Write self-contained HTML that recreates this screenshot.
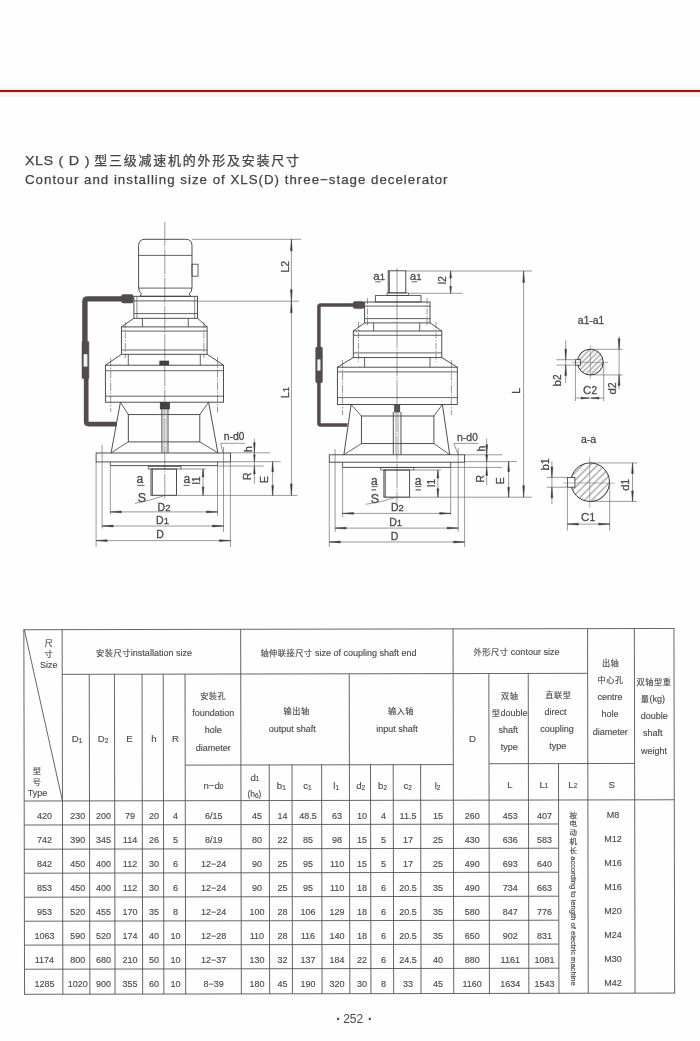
<!DOCTYPE html>
<html lang="zh">
<head>
<meta charset="utf-8">
<title>XLS(D) three-stage decelerator</title>
<style>
html,body{margin:0;padding:0;}
body{width:700px;height:1041px;position:relative;overflow:hidden;background:#fefefe;
 font-family:"Liberation Sans","Noto Sans CJK SC",sans-serif;color:#4a4a4a;}
.page{position:absolute;left:0;top:0;width:700px;height:1041px;will-change:transform;}
.band{position:absolute;left:0;top:80px;width:700px;height:17px;background:linear-gradient(#fefefe,#f3f8f8 60%,#f1f5f4);}
.rule{position:absolute;left:0;top:89.6px;width:700px;height:2.6px;background:#b30a0a;box-shadow:0 0 1px #d66;}
.t1,.t2{position:absolute;left:25px;white-space:nowrap;color:#444;-webkit-text-stroke:0.25px #444;}
.t1{top:152.7px;left:25.2px;font-size:13px;letter-spacing:1.75px;line-height:16px;}
.t1 b{font-weight:normal;display:inline-block;transform:scaleX(1.06);transform-origin:0 50%;font-size:13.6px;letter-spacing:0.4px;word-spacing:0.6px;width:69.1px;white-space:pre;}
.t2{top:171.8px;left:25px;font-size:13.3px;letter-spacing:1.0px;line-height:16px;}
svg{position:absolute;left:0;top:0;}
svg text{font-family:"Liberation Sans","Noto Sans CJK SC",sans-serif;}
.tbl{position:absolute;left:0;top:0;width:700px;height:1041px;}
.c{position:absolute;white-space:nowrap;font-size:9px;line-height:12px;text-align:center;color:#4c4c4c;-webkit-text-stroke:0.15px #4c4c4c;transform:translate(-50%,-50%);}
.c sub{font-size:6.5px;vertical-align:baseline;position:relative;top:0.3px;}
.c.h{font-size:9.6px;}
.c u{text-decoration:none;font-size:8.2px;letter-spacing:0.5px;}
.pg{position:absolute;left:303.2px;width:100px;top:1011.4px;text-align:center;font-size:12px;line-height:14px;color:#4a4a4a;white-space:pre;}
.pg i{font-style:normal;font-weight:bold;font-size:15px;line-height:14px;display:inline-block;width:5px;text-align:center;vertical-align:-0.5px;position:relative;left:1.2px;top:0.3px;}
</style>
</head>
<body>
<div class="page">
<div class="band"></div>
<div class="rule"></div>
<div class="t1"><b>XLS ( D )</b>型三级减速机的外形及安装尺寸</div>
<div class="t2">Contour and installing size of XLS(D) three−stage decelerator</div>
<svg width="700" height="1041" viewBox="0 0 700 1041">
<g id="drawing">
<line x1="164.8" y1="222.0" x2="164.8" y2="500.0" stroke="#5a5a5a" stroke-width="0.6" stroke-dasharray="24 1.2 1.6 1.2"/>
<path d="M145 239.3 H185.6 Q192.0 239.3 192.0 245.7 V287.5 Q191.9 292 189.2 293.8 L190.6 296.3 H140 L141.4 293.8 Q138.7 292 138.6 287.5 V245.7 Q138.6 239.3 145 239.3 Z" fill="none" stroke="#3c3c3c" stroke-width="0.9" />
<line x1="138.6" y1="255.4" x2="192.1" y2="255.4" stroke="#3c3c3c" stroke-width="0.8" />
<line x1="138.6" y1="288.1" x2="192.0" y2="288.1" stroke="#3c3c3c" stroke-width="0.8" />
<rect x="192.0" y="264.2" width="6.0" height="12.0" rx="0" fill="none" stroke="#3c3c3c" stroke-width="0.8"/>
<rect x="133.9" y="296.3" width="63.6" height="22.0" rx="0" fill="none" stroke="#3c3c3c" stroke-width="0.9"/>
<line x1="133.9" y1="300.9" x2="197.5" y2="300.9" stroke="#3c3c3c" stroke-width="0.8" />
<line x1="133.9" y1="313.6" x2="197.5" y2="313.6" stroke="#3c3c3c" stroke-width="0.8" />
<line x1="136.9" y1="296.3" x2="136.9" y2="318.3" stroke="#3c3c3c" stroke-width="0.6" />
<line x1="194.7" y1="296.3" x2="194.7" y2="318.3" stroke="#3c3c3c" stroke-width="0.6" />
<path d="M133.9 318.3 L121.4 326.9" fill="none" stroke="#3c3c3c" stroke-width="0.9" stroke-linejoin="round"/>
<path d="M197.5 318.3 L207.1 326.9" fill="none" stroke="#3c3c3c" stroke-width="0.9" stroke-linejoin="round"/>
<line x1="142.4" y1="318.3" x2="142.4" y2="326.9" stroke="#3c3c3c" stroke-width="0.8" />
<line x1="188.3" y1="318.3" x2="188.3" y2="326.9" stroke="#3c3c3c" stroke-width="0.8" />
<rect x="121.4" y="326.9" width="85.7" height="27.4" rx="0" fill="none" stroke="#3c3c3c" stroke-width="0.9"/>
<line x1="121.4" y1="331.1" x2="207.1" y2="331.1" stroke="#3c3c3c" stroke-width="0.8" />
<line x1="121.4" y1="350.0" x2="207.1" y2="350.0" stroke="#3c3c3c" stroke-width="0.8" />
<line x1="125.3" y1="322.0" x2="125.3" y2="358.0" stroke="#555" stroke-width="0.6" stroke-dasharray="6 1.5 1.5 1.5"/>
<line x1="203.9" y1="322.0" x2="203.9" y2="358.0" stroke="#555" stroke-width="0.6" stroke-dasharray="6 1.5 1.5 1.5"/>
<path d="M121.4 354.3 L105.4 365.2" fill="none" stroke="#3c3c3c" stroke-width="0.9" stroke-linejoin="round"/>
<path d="M207.1 354.3 L223.5 365.2" fill="none" stroke="#3c3c3c" stroke-width="0.9" stroke-linejoin="round"/>
<line x1="128.3" y1="354.3" x2="128.3" y2="365.2" stroke="#3c3c3c" stroke-width="0.8" />
<line x1="200.3" y1="354.3" x2="200.3" y2="365.2" stroke="#3c3c3c" stroke-width="0.8" />
<rect x="159.8" y="361.0" width="9.0" height="4.0" rx="0" fill="#444" stroke="#333" stroke-width="0.6"/>
<rect x="105.4" y="365.2" width="118.1" height="37.0" rx="0" fill="none" stroke="#3c3c3c" stroke-width="0.9"/>
<line x1="105.4" y1="370.7" x2="223.5" y2="370.7" stroke="#3c3c3c" stroke-width="0.8" />
<line x1="105.4" y1="396.2" x2="223.5" y2="396.2" stroke="#3c3c3c" stroke-width="0.8" />
<line x1="110.7" y1="358.0" x2="110.7" y2="412.0" stroke="#555" stroke-width="0.6" stroke-dasharray="8 1.5 1.5 1.5"/>
<line x1="217.5" y1="357.0" x2="217.5" y2="412.5" stroke="#555" stroke-width="0.6" stroke-dasharray="8 1.5 1.5 1.5"/>
<path d="M120.4 402.2 L111.1 452.8" fill="none" stroke="#3c3c3c" stroke-width="0.9" stroke-linejoin="round"/>
<path d="M208.6 402.2 L217.9 452.8" fill="none" stroke="#3c3c3c" stroke-width="0.9" stroke-linejoin="round"/>
<rect x="128.3" y="414.6" width="71.5" height="27.3" rx="0" fill="none" stroke="#3c3c3c" stroke-width="0.9"/>
<line x1="120.4" y1="402.2" x2="128.3" y2="414.6" stroke="#3c3c3c" stroke-width="0.8" />
<line x1="208.6" y1="402.2" x2="199.8" y2="414.6" stroke="#3c3c3c" stroke-width="0.8" />
<line x1="111.1" y1="452.8" x2="128.3" y2="441.9" stroke="#3c3c3c" stroke-width="0.8" />
<line x1="217.9" y1="452.8" x2="199.8" y2="441.9" stroke="#3c3c3c" stroke-width="0.8" />
<rect x="160.2" y="402.4" width="9.4" height="6.6" rx="0" fill="#444" stroke="#333" stroke-width="0.6"/>
<line x1="161.9" y1="409.0" x2="161.9" y2="452.8" stroke="#3c3c3c" stroke-width="0.9" />
<line x1="168.0" y1="409.0" x2="168.0" y2="452.8" stroke="#3c3c3c" stroke-width="0.9" />
<line x1="163.3" y1="409.0" x2="163.3" y2="452.8" stroke="#999" stroke-width="0.5" />
<line x1="166.6" y1="409.0" x2="166.6" y2="452.8" stroke="#999" stroke-width="0.5" />
<rect x="96.1" y="453.0" width="134.3" height="8.9" rx="0" fill="none" stroke="#3c3c3c" stroke-width="0.9"/>
<line x1="110.3" y1="465.6" x2="217.5" y2="465.6" stroke="#3c3c3c" stroke-width="0.9" />
<line x1="110.3" y1="461.9" x2="110.3" y2="465.6" stroke="#3c3c3c" stroke-width="0.8" />
<line x1="217.5" y1="461.9" x2="217.5" y2="465.6" stroke="#3c3c3c" stroke-width="0.8" />
<rect x="148.2" y="466.6" width="32.8" height="2.4" rx="0" fill="none" stroke="#3c3c3c" stroke-width="0.7"/>
<rect x="151.0" y="469.0" width="25.5" height="26.3" rx="0" fill="none" stroke="#3c3c3c" stroke-width="0.9"/>
<line x1="152.3" y1="469.0" x2="152.3" y2="495.3" stroke="#3c3c3c" stroke-width="0.9" />
<path d="M133 298.9 H87.6 Q84.9 298.9 84.9 301.6 V342" fill="none" stroke="#524a4e" stroke-width="5.4" stroke-linejoin="round"/>
<path d="M86.2 377 V421.6 Q86.2 424.1 88.8 424.1 H116.8" fill="none" stroke="#524a4e" stroke-width="4.7" stroke-linejoin="round"/>
<rect x="121.4" y="294.6" width="11.9" height="8.4" rx="1.8" fill="#524a4e" stroke="#524a4e" stroke-width="0.5"/>
<rect x="82.0" y="341.2" width="6.9" height="37.4" rx="1.2" fill="#524a4e" stroke="#524a4e" stroke-width="0.5"/>
<rect x="83.5" y="354.0" width="4.0" height="12.8" rx="0.8" fill="#f2f2f2" stroke="#777" stroke-width="0.4"/>
<line x1="192.0" y1="239.3" x2="301.0" y2="239.3" stroke="#555" stroke-width="0.6" />
<line x1="197.5" y1="301.2" x2="299.0" y2="301.2" stroke="#555" stroke-width="0.6" />
<line x1="291.4" y1="239.3" x2="291.4" y2="495.4" stroke="#555" stroke-width="0.6" />
<path d="M291.4 239.3 L290.5 250.8 L292.2 250.8 Z" fill="#3a3a3a" stroke="#3a3a3a" stroke-width="0.5"/>
<path d="M291.4 301.2 L290.5 289.7 L292.2 289.7 Z" fill="#3a3a3a" stroke="#3a3a3a" stroke-width="0.5"/>
<path d="M291.4 301.2 L290.5 312.7 L292.2 312.7 Z" fill="#3a3a3a" stroke="#3a3a3a" stroke-width="0.5"/>
<path d="M291.4 495.4 L290.5 483.9 L292.2 483.9 Z" fill="#3a3a3a" stroke="#3a3a3a" stroke-width="0.5"/>
<text x="289.3" y="266.7" font-size="10.5" text-anchor="middle" fill="#4a4a4a" stroke="#4a4a4a" stroke-width="0.3" transform="rotate(-90 289.3 266.7)" >L2</text>
<text x="289.3" y="392.5" font-size="10.5" text-anchor="middle" fill="#4a4a4a" stroke="#4a4a4a" stroke-width="0.3" transform="rotate(-90 289.3 392.5)" >L<tspan font-size="9">1</tspan></text>
<line x1="152.0" y1="495.4" x2="297.4" y2="495.4" stroke="#555" stroke-width="0.6" />
<line x1="96.1" y1="461.9" x2="96.1" y2="547.0" stroke="#555" stroke-width="0.6" />
<line x1="230.4" y1="461.9" x2="230.4" y2="547.0" stroke="#555" stroke-width="0.6" />
<line x1="102.1" y1="445.0" x2="102.1" y2="528.5" stroke="#555" stroke-width="0.6" />
<line x1="223.5" y1="447.0" x2="223.5" y2="531.8" stroke="#555" stroke-width="0.6" />
<line x1="110.3" y1="465.6" x2="110.3" y2="514.5" stroke="#555" stroke-width="0.6" />
<line x1="217.5" y1="465.6" x2="217.5" y2="515.7" stroke="#555" stroke-width="0.6" />
<line x1="110.3" y1="511.9" x2="217.5" y2="511.9" stroke="#555" stroke-width="0.6" />
<path d="M110.3 511.9 L121.3 511.0 L121.3 512.8 Z" fill="#3a3a3a" stroke="#3a3a3a" stroke-width="0.5"/>
<path d="M217.5 511.9 L206.5 511.0 L206.5 512.8 Z" fill="#3a3a3a" stroke="#3a3a3a" stroke-width="0.5"/>
<line x1="102.1" y1="526.0" x2="223.5" y2="526.0" stroke="#555" stroke-width="0.6" />
<path d="M102.1 526.0 L113.1 525.1 L113.1 526.9 Z" fill="#3a3a3a" stroke="#3a3a3a" stroke-width="0.5"/>
<path d="M223.5 526.0 L212.5 525.1 L212.5 526.9 Z" fill="#3a3a3a" stroke="#3a3a3a" stroke-width="0.5"/>
<line x1="96.1" y1="540.6" x2="230.4" y2="540.6" stroke="#555" stroke-width="0.6" />
<path d="M96.1 540.6 L107.1 539.8 L107.1 541.5 Z" fill="#3a3a3a" stroke="#3a3a3a" stroke-width="0.5"/>
<path d="M230.4 540.6 L219.4 539.8 L219.4 541.5 Z" fill="#3a3a3a" stroke="#3a3a3a" stroke-width="0.5"/>
<text x="164.0" y="510.6" font-size="10.5" text-anchor="middle" fill="#4a4a4a" stroke="#4a4a4a" stroke-width="0.3" >D<tspan font-size="9.5">2</tspan></text>
<text x="162.5" y="524.3" font-size="10.5" text-anchor="middle" fill="#4a4a4a" stroke="#4a4a4a" stroke-width="0.3" >D<tspan font-size="9.5">1</tspan></text>
<text x="160.0" y="538.2" font-size="10.5" text-anchor="middle" fill="#4a4a4a" stroke="#4a4a4a" stroke-width="0.3" >D</text>
<text x="139.8" y="483.0" font-size="12" text-anchor="middle" fill="#4a4a4a" stroke="#4a4a4a" stroke-width="0.3" >a</text>
<line x1="137.2" y1="485.4" x2="144.5" y2="485.4" stroke="#3c3c3c" stroke-width="0.8" />
<text x="142.0" y="502.2" font-size="12.5" text-anchor="middle" fill="#4a4a4a" stroke="#4a4a4a" stroke-width="0.3" >S</text>
<line x1="135.0" y1="503.4" x2="150.0" y2="500.0" stroke="#555" stroke-width="0.6" />
<line x1="150.0" y1="500.0" x2="163.2" y2="496.0" stroke="#555" stroke-width="0.6" />
<text x="186.8" y="483.0" font-size="12" text-anchor="middle" fill="#4a4a4a" stroke="#4a4a4a" stroke-width="0.3" >a</text>
<line x1="183.5" y1="485.4" x2="189.5" y2="485.4" stroke="#3c3c3c" stroke-width="0.8" />
<text x="200.3" y="480.5" font-size="10.5" text-anchor="middle" fill="#4a4a4a" stroke="#4a4a4a" stroke-width="0.3" transform="rotate(-90 200.3 480.5)" >l<tspan font-size="10">1</tspan></text>
<line x1="203.1" y1="469.0" x2="203.1" y2="495.4" stroke="#555" stroke-width="0.6" />
<path d="M203.1 469.0 L202.2 477.0 L203.9 477.0 Z" fill="#3a3a3a" stroke="#3a3a3a" stroke-width="0.5"/>
<path d="M203.1 495.4 L202.2 486.9 L203.9 486.9 Z" fill="#3a3a3a" stroke="#3a3a3a" stroke-width="0.5"/>
<line x1="181.0" y1="469.0" x2="206.0" y2="469.0" stroke="#555" stroke-width="0.6" />
<line x1="230.4" y1="452.8" x2="270.0" y2="452.8" stroke="#555" stroke-width="0.6" />
<line x1="230.4" y1="461.7" x2="280.7" y2="461.7" stroke="#555" stroke-width="0.6" />
<line x1="217.5" y1="466.0" x2="263.6" y2="466.0" stroke="#555" stroke-width="0.6" />
<line x1="254.4" y1="438.6" x2="254.4" y2="483.6" stroke="#555" stroke-width="0.6" />
<path d="M254.4 452.8 L253.6 442.8 L255.2 442.8 Z" fill="#3a3a3a" stroke="#3a3a3a" stroke-width="0.5"/>
<path d="M254.4 461.7 L253.6 454.7 L255.2 454.7 Z" fill="#3a3a3a" stroke="#3a3a3a" stroke-width="0.5"/>
<path d="M254.4 466.0 L253.6 474.0 L255.2 474.0 Z" fill="#3a3a3a" stroke="#3a3a3a" stroke-width="0.5"/>
<text x="251.8" y="449.0" font-size="10.5" text-anchor="middle" fill="#4a4a4a" stroke="#4a4a4a" stroke-width="0.3" transform="rotate(-90 251.8 449.0)" >h</text>
<text x="251.5" y="476.2" font-size="10.5" text-anchor="middle" fill="#4a4a4a" stroke="#4a4a4a" stroke-width="0.3" transform="rotate(-90 251.5 476.2)" >R</text>
<text x="268.0" y="479.4" font-size="10.5" text-anchor="middle" fill="#4a4a4a" stroke="#4a4a4a" stroke-width="0.3" transform="rotate(-90 268.0 479.4)" >E</text>
<line x1="272.6" y1="461.7" x2="272.6" y2="495.4" stroke="#555" stroke-width="0.6" />
<path d="M272.6 461.7 L271.8 471.7 L273.5 471.7 Z" fill="#3a3a3a" stroke="#3a3a3a" stroke-width="0.5"/>
<path d="M272.6 495.4 L271.8 485.4 L273.5 485.4 Z" fill="#3a3a3a" stroke="#3a3a3a" stroke-width="0.5"/>
<text x="234.0" y="439.6" font-size="10.5" text-anchor="middle" fill="#4a4a4a" stroke="#4a4a4a" stroke-width="0.3" >n-d<tspan font-size="10">0</tspan></text>
<line x1="220.7" y1="443.3" x2="245.4" y2="443.3" stroke="#555" stroke-width="0.6" />
<line x1="220.7" y1="443.3" x2="222.9" y2="452.8" stroke="#555" stroke-width="0.6" />
<line x1="397.0" y1="268.0" x2="397.0" y2="503.0" stroke="#5a5a5a" stroke-width="0.6" stroke-dasharray="24 1.2 1.6 1.2"/>
<rect x="388.2" y="270.8" width="17.6" height="22.1" rx="0" fill="none" stroke="#3c3c3c" stroke-width="0.9"/>
<line x1="389.3" y1="270.8" x2="389.3" y2="292.9" stroke="#3c3c3c" stroke-width="0.9" />
<rect x="387.1" y="292.9" width="21.5" height="2.7" rx="0" fill="none" stroke="#3c3c3c" stroke-width="0.7"/>
<rect x="375.4" y="295.6" width="45.6" height="6.4" rx="0" fill="none" stroke="#3c3c3c" stroke-width="0.8"/>
<rect x="364.6" y="302.0" width="65.4" height="20.9" rx="0" fill="none" stroke="#3c3c3c" stroke-width="0.9"/>
<line x1="364.6" y1="306.1" x2="430.0" y2="306.1" stroke="#3c3c3c" stroke-width="0.8" />
<line x1="364.6" y1="318.6" x2="430.0" y2="318.6" stroke="#3c3c3c" stroke-width="0.8" />
<line x1="367.5" y1="298.0" x2="367.5" y2="326.0" stroke="#555" stroke-width="0.6" stroke-dasharray="6 1.5 1.5 1.5"/>
<line x1="427.0" y1="298.0" x2="427.0" y2="326.0" stroke="#555" stroke-width="0.6" stroke-dasharray="6 1.5 1.5 1.5"/>
<line x1="364.6" y1="322.9" x2="353.3" y2="331.0" stroke="#3c3c3c" stroke-width="0.9" />
<line x1="430.0" y1="322.9" x2="441.8" y2="331.0" stroke="#3c3c3c" stroke-width="0.9" />
<line x1="373.6" y1="322.9" x2="373.6" y2="331.0" stroke="#3c3c3c" stroke-width="0.8" />
<line x1="419.7" y1="322.9" x2="419.7" y2="331.0" stroke="#3c3c3c" stroke-width="0.8" />
<rect x="353.3" y="331.0" width="88.5" height="26.6" rx="0" fill="none" stroke="#3c3c3c" stroke-width="0.9"/>
<line x1="353.3" y1="335.3" x2="441.8" y2="335.3" stroke="#3c3c3c" stroke-width="0.8" />
<line x1="353.3" y1="352.9" x2="441.8" y2="352.9" stroke="#3c3c3c" stroke-width="0.8" />
<line x1="358.5" y1="322.0" x2="358.5" y2="362.0" stroke="#555" stroke-width="0.6" stroke-dasharray="6 1.5 1.5 1.5"/>
<line x1="436.0" y1="322.0" x2="436.0" y2="362.0" stroke="#555" stroke-width="0.6" stroke-dasharray="6 1.5 1.5 1.5"/>
<line x1="353.3" y1="357.6" x2="337.4" y2="367.2" stroke="#3c3c3c" stroke-width="0.9" />
<line x1="441.8" y1="357.6" x2="457.3" y2="367.2" stroke="#3c3c3c" stroke-width="0.9" />
<line x1="364.6" y1="357.6" x2="364.6" y2="367.2" stroke="#3c3c3c" stroke-width="0.8" />
<line x1="430.0" y1="357.6" x2="430.0" y2="367.2" stroke="#3c3c3c" stroke-width="0.8" />
<rect x="337.4" y="367.2" width="119.9" height="37.3" rx="0" fill="none" stroke="#3c3c3c" stroke-width="0.9"/>
<line x1="337.4" y1="371.9" x2="457.3" y2="371.9" stroke="#3c3c3c" stroke-width="0.8" />
<line x1="337.4" y1="397.6" x2="457.3" y2="397.6" stroke="#3c3c3c" stroke-width="0.8" />
<line x1="342.6" y1="360.0" x2="342.6" y2="415.0" stroke="#555" stroke-width="0.6" stroke-dasharray="8 1.5 1.5 1.5"/>
<line x1="451.4" y1="360.0" x2="451.4" y2="415.0" stroke="#555" stroke-width="0.6" stroke-dasharray="8 1.5 1.5 1.5"/>
<line x1="351.1" y1="404.5" x2="343.9" y2="454.6" stroke="#3c3c3c" stroke-width="0.9" />
<line x1="442.4" y1="404.5" x2="449.7" y2="454.6" stroke="#3c3c3c" stroke-width="0.9" />
<rect x="361.4" y="416.0" width="72.5" height="27.6" rx="0" fill="none" stroke="#3c3c3c" stroke-width="0.9"/>
<line x1="351.1" y1="404.5" x2="361.4" y2="416.0" stroke="#3c3c3c" stroke-width="0.8" />
<line x1="442.4" y1="404.5" x2="433.9" y2="416.0" stroke="#3c3c3c" stroke-width="0.8" />
<line x1="343.9" y1="454.6" x2="361.4" y2="443.6" stroke="#3c3c3c" stroke-width="0.8" />
<line x1="449.7" y1="454.6" x2="433.9" y2="443.6" stroke="#3c3c3c" stroke-width="0.8" />
<rect x="394.6" y="405.3" width="5.2" height="6.7" rx="0" fill="#555" stroke="#333" stroke-width="0.6"/>
<line x1="393.3" y1="412.0" x2="393.3" y2="454.6" stroke="#3c3c3c" stroke-width="0.9" />
<line x1="401.0" y1="412.0" x2="401.0" y2="454.6" stroke="#3c3c3c" stroke-width="0.9" />
<line x1="395.6" y1="412.0" x2="395.6" y2="454.6" stroke="#999" stroke-width="0.5" />
<line x1="398.6" y1="412.0" x2="398.6" y2="454.6" stroke="#999" stroke-width="0.5" />
<rect x="329.3" y="454.8" width="135.3" height="7.4" rx="0" fill="none" stroke="#3c3c3c" stroke-width="0.9"/>
<line x1="342.6" y1="467.4" x2="450.7" y2="467.4" stroke="#3c3c3c" stroke-width="0.9" />
<line x1="342.6" y1="462.2" x2="342.6" y2="467.4" stroke="#3c3c3c" stroke-width="0.8" />
<line x1="450.7" y1="462.2" x2="450.7" y2="467.4" stroke="#3c3c3c" stroke-width="0.8" />
<rect x="380.7" y="467.6" width="33.2" height="2.4" rx="0" fill="none" stroke="#3c3c3c" stroke-width="0.7"/>
<rect x="383.9" y="470.0" width="25.7" height="27.2" rx="0" fill="none" stroke="#3c3c3c" stroke-width="0.9"/>
<line x1="385.2" y1="470.0" x2="385.2" y2="497.2" stroke="#3c3c3c" stroke-width="0.9" />
<path d="M364 305.0 H320.8 Q318.9 305.0 318.9 307 V423.2 Q318.9 425.0 320.8 425.0 H347.6" fill="none" stroke="#524a4e" stroke-width="3.5" stroke-linejoin="round"/>
<rect x="353.2" y="301.4" width="11.0" height="7.2" rx="1.8" fill="#524a4e" stroke="#524a4e" stroke-width="0.5"/>
<rect x="315.7" y="347.1" width="6.7" height="35.7" rx="1.4" fill="#524a4e" stroke="#524a4e" stroke-width="0.5"/>
<rect x="317.2" y="359.2" width="3.4" height="11.6" rx="0.8" fill="#f2f2f2" stroke="#777" stroke-width="0.4"/>
<line x1="405.8" y1="271.0" x2="532.0" y2="271.0" stroke="#555" stroke-width="0.6" />
<line x1="408.6" y1="293.3" x2="462.5" y2="293.3" stroke="#555" stroke-width="0.6" />
<line x1="450.6" y1="271.0" x2="450.6" y2="293.3" stroke="#555" stroke-width="0.6" />
<path d="M450.6 271.0 L449.8 278.0 L451.5 278.0 Z" fill="#3a3a3a" stroke="#3a3a3a" stroke-width="0.5"/>
<path d="M450.6 293.3 L449.8 286.3 L451.5 286.3 Z" fill="#3a3a3a" stroke="#3a3a3a" stroke-width="0.5"/>
<text x="446.2" y="280.2" font-size="10.5" text-anchor="middle" fill="#4a4a4a" stroke="#4a4a4a" stroke-width="0.3" transform="rotate(-90 446.2 280.2)" >l<tspan font-size="10">2</tspan></text>
<text x="379.2" y="280.2" font-size="11.5" text-anchor="middle" fill="#4a4a4a" stroke="#4a4a4a" stroke-width="0.3" >a<tspan font-size="9.5">1</tspan></text>
<line x1="375.2" y1="281.8" x2="380.6" y2="281.8" stroke="#3c3c3c" stroke-width="0.8" />
<text x="415.6" y="280.2" font-size="11.5" text-anchor="middle" fill="#4a4a4a" stroke="#4a4a4a" stroke-width="0.3" >a<tspan font-size="9.5">1</tspan></text>
<line x1="411.6" y1="281.8" x2="417.0" y2="281.8" stroke="#3c3c3c" stroke-width="0.8" />
<line x1="523.6" y1="271.0" x2="523.6" y2="497.2" stroke="#555" stroke-width="0.6" />
<path d="M523.6 271.0 L522.8 282.5 L524.5 282.5 Z" fill="#3a3a3a" stroke="#3a3a3a" stroke-width="0.5"/>
<path d="M523.6 497.2 L522.8 485.7 L524.5 485.7 Z" fill="#3a3a3a" stroke="#3a3a3a" stroke-width="0.5"/>
<text x="519.6" y="390.7" font-size="10.5" text-anchor="middle" fill="#4a4a4a" stroke="#4a4a4a" stroke-width="0.3" transform="rotate(-90 519.6 390.7)" >L</text>
<line x1="385.0" y1="497.2" x2="531.7" y2="497.2" stroke="#555" stroke-width="0.6" />
<line x1="329.3" y1="462.2" x2="329.3" y2="547.0" stroke="#555" stroke-width="0.6" />
<line x1="464.6" y1="462.2" x2="464.6" y2="547.0" stroke="#555" stroke-width="0.6" />
<line x1="335.1" y1="449.0" x2="335.1" y2="532.0" stroke="#555" stroke-width="0.6" />
<line x1="458.2" y1="448.0" x2="458.2" y2="531.5" stroke="#555" stroke-width="0.6" />
<line x1="342.6" y1="467.4" x2="342.6" y2="517.0" stroke="#555" stroke-width="0.6" />
<line x1="450.7" y1="467.4" x2="450.7" y2="515.0" stroke="#555" stroke-width="0.6" />
<line x1="342.6" y1="513.4" x2="450.7" y2="513.4" stroke="#555" stroke-width="0.6" />
<path d="M342.6 513.4 L353.6 512.5 L353.6 514.2 Z" fill="#3a3a3a" stroke="#3a3a3a" stroke-width="0.5"/>
<path d="M450.7 513.4 L439.7 512.5 L439.7 514.2 Z" fill="#3a3a3a" stroke="#3a3a3a" stroke-width="0.5"/>
<line x1="335.1" y1="528.1" x2="458.2" y2="528.1" stroke="#555" stroke-width="0.6" />
<path d="M335.1 528.1 L346.1 527.2 L346.1 529.0 Z" fill="#3a3a3a" stroke="#3a3a3a" stroke-width="0.5"/>
<path d="M458.2 528.1 L447.2 527.2 L447.2 529.0 Z" fill="#3a3a3a" stroke="#3a3a3a" stroke-width="0.5"/>
<line x1="329.3" y1="542.0" x2="464.6" y2="542.0" stroke="#555" stroke-width="0.6" />
<path d="M329.3 542.0 L340.3 541.1 L340.3 542.9 Z" fill="#3a3a3a" stroke="#3a3a3a" stroke-width="0.5"/>
<path d="M464.6 542.0 L453.6 541.1 L453.6 542.9 Z" fill="#3a3a3a" stroke="#3a3a3a" stroke-width="0.5"/>
<text x="397.4" y="511.4" font-size="10.5" text-anchor="middle" fill="#4a4a4a" stroke="#4a4a4a" stroke-width="0.3" >D<tspan font-size="9.5">2</tspan></text>
<text x="395.7" y="525.8" font-size="10.5" text-anchor="middle" fill="#4a4a4a" stroke="#4a4a4a" stroke-width="0.3" >D<tspan font-size="9.5">1</tspan></text>
<text x="394.6" y="540.0" font-size="10.5" text-anchor="middle" fill="#4a4a4a" stroke="#4a4a4a" stroke-width="0.3" >D</text>
<text x="374.4" y="484.6" font-size="12" text-anchor="middle" fill="#4a4a4a" stroke="#4a4a4a" stroke-width="0.3" >a</text>
<line x1="371.5" y1="486.6" x2="377.5" y2="486.6" stroke="#3c3c3c" stroke-width="0.8" />
<line x1="371.5" y1="489.9" x2="376.0" y2="489.9" stroke="#3c3c3c" stroke-width="1.0" />
<text x="375.0" y="502.8" font-size="12.5" text-anchor="middle" fill="#4a4a4a" stroke="#4a4a4a" stroke-width="0.3" >S</text>
<line x1="365.7" y1="504.3" x2="381.0" y2="501.6" stroke="#555" stroke-width="0.6" />
<line x1="381.0" y1="501.6" x2="395.7" y2="497.4" stroke="#555" stroke-width="0.6" />
<text x="418.2" y="484.6" font-size="12" text-anchor="middle" fill="#4a4a4a" stroke="#4a4a4a" stroke-width="0.3" >a</text>
<line x1="415.3" y1="486.6" x2="421.3" y2="486.6" stroke="#3c3c3c" stroke-width="0.8" />
<line x1="415.5" y1="489.9" x2="421.0" y2="489.9" stroke="#3c3c3c" stroke-width="1.0" />
<text x="434.6" y="483.0" font-size="10.5" text-anchor="middle" fill="#4a4a4a" stroke="#4a4a4a" stroke-width="0.3" transform="rotate(-90 434.6 483.0)" >l<tspan font-size="10">1</tspan></text>
<line x1="437.9" y1="470.0" x2="437.9" y2="497.2" stroke="#555" stroke-width="0.6" />
<path d="M437.9 470.0 L437.0 478.0 L438.8 478.0 Z" fill="#3a3a3a" stroke="#3a3a3a" stroke-width="0.5"/>
<path d="M437.9 497.2 L437.0 488.7 L438.8 488.7 Z" fill="#3a3a3a" stroke="#3a3a3a" stroke-width="0.5"/>
<line x1="413.9" y1="470.0" x2="441.0" y2="470.0" stroke="#555" stroke-width="0.6" />
<line x1="464.6" y1="454.8" x2="502.0" y2="454.8" stroke="#555" stroke-width="0.6" />
<line x1="464.6" y1="461.6" x2="517.0" y2="461.6" stroke="#555" stroke-width="0.6" />
<line x1="450.7" y1="467.4" x2="502.0" y2="467.4" stroke="#555" stroke-width="0.6" />
<line x1="486.7" y1="438.6" x2="486.7" y2="485.5" stroke="#555" stroke-width="0.6" />
<path d="M486.7 454.8 L485.8 444.8 L487.6 444.8 Z" fill="#3a3a3a" stroke="#3a3a3a" stroke-width="0.5"/>
<path d="M486.7 461.6 L485.8 455.1 L487.6 455.1 Z" fill="#3a3a3a" stroke="#3a3a3a" stroke-width="0.5"/>
<path d="M486.7 467.4 L485.8 475.4 L487.6 475.4 Z" fill="#3a3a3a" stroke="#3a3a3a" stroke-width="0.5"/>
<text x="485.4" y="448.6" font-size="10.5" text-anchor="middle" fill="#4a4a4a" stroke="#4a4a4a" stroke-width="0.3" transform="rotate(-90 485.4 448.6)" >h</text>
<text x="484.2" y="478.6" font-size="10.5" text-anchor="middle" fill="#4a4a4a" stroke="#4a4a4a" stroke-width="0.3" transform="rotate(-90 484.2 478.6)" >R</text>
<text x="504.2" y="480.7" font-size="10.5" text-anchor="middle" fill="#4a4a4a" stroke="#4a4a4a" stroke-width="0.3" transform="rotate(-90 504.2 480.7)" >E</text>
<line x1="508.6" y1="461.6" x2="508.6" y2="497.2" stroke="#555" stroke-width="0.6" />
<path d="M508.6 461.6 L507.8 471.6 L509.5 471.6 Z" fill="#3a3a3a" stroke="#3a3a3a" stroke-width="0.5"/>
<path d="M508.6 497.2 L507.8 487.2 L509.5 487.2 Z" fill="#3a3a3a" stroke="#3a3a3a" stroke-width="0.5"/>
<text x="467.4" y="441.4" font-size="10.5" text-anchor="middle" fill="#4a4a4a" stroke="#4a4a4a" stroke-width="0.3" >n-d<tspan font-size="10">0</tspan></text>
<line x1="453.9" y1="443.4" x2="478.3" y2="443.4" stroke="#555" stroke-width="0.6" />
<line x1="453.9" y1="443.4" x2="458.2" y2="454.8" stroke="#555" stroke-width="0.6" />
<defs><pattern id="hatch" width="3.7" height="3.7" patternUnits="userSpaceOnUse" patternTransform="rotate(-45)"><line x1="0" y1="1.85" x2="3.7" y2="1.85" stroke="#555" stroke-width="0.7"/></pattern><pattern id="hatch2" width="5.2" height="5.2" patternUnits="userSpaceOnUse" patternTransform="rotate(-45)"><line x1="0" y1="2.6" x2="5.2" y2="2.6" stroke="#555" stroke-width="0.7"/></pattern></defs>
<text x="591.0" y="324.2" font-size="10.5" text-anchor="middle" fill="#4a4a4a" stroke="#4a4a4a" stroke-width="0.3" >a<tspan font-size="10">1</tspan>-a<tspan font-size="10">1</tspan></text>
<circle cx="590.3" cy="362.1" r="12.9" fill="url(#hatch)" stroke="#333" stroke-width="1"/>
<rect x="575.4" y="359.7" width="5.2" height="5.4" rx="0" fill="#fefefe" stroke="#333" stroke-width="0.8"/>
<line x1="572.0" y1="362.4" x2="608.0" y2="362.4" stroke="#666" stroke-width="0.5" />
<line x1="590.3" y1="345.0" x2="590.3" y2="379.0" stroke="#666" stroke-width="0.5" />
<line x1="565.7" y1="340.3" x2="565.7" y2="383.1" stroke="#555" stroke-width="0.6" />
<line x1="556.6" y1="359.7" x2="575.4" y2="359.7" stroke="#555" stroke-width="0.6" />
<line x1="556.6" y1="365.1" x2="575.4" y2="365.1" stroke="#555" stroke-width="0.6" />
<path d="M565.7 359.7 L564.9 349.2 L566.6 349.2 Z" fill="#3a3a3a" stroke="#3a3a3a" stroke-width="0.5"/>
<path d="M565.7 365.1 L564.9 375.6 L566.6 375.6 Z" fill="#3a3a3a" stroke="#3a3a3a" stroke-width="0.5"/>
<text x="561.3" y="380.4" font-size="11.5" text-anchor="middle" fill="#4a4a4a" stroke="#4a4a4a" stroke-width="0.3" transform="rotate(-90 561.3 380.4)" >b<tspan font-size="10">2</tspan></text>
<line x1="619.1" y1="336.3" x2="619.1" y2="389.1" stroke="#555" stroke-width="0.6" />
<line x1="590.0" y1="349.3" x2="622.6" y2="349.3" stroke="#555" stroke-width="0.6" />
<line x1="590.0" y1="374.9" x2="622.6" y2="374.9" stroke="#555" stroke-width="0.6" />
<path d="M619.1 349.3 L618.2 338.8 L620.0 338.8 Z" fill="#3a3a3a" stroke="#3a3a3a" stroke-width="0.5"/>
<path d="M619.1 374.9 L618.2 385.4 L620.0 385.4 Z" fill="#3a3a3a" stroke="#3a3a3a" stroke-width="0.5"/>
<text x="615.8" y="388.4" font-size="11.5" text-anchor="middle" fill="#4a4a4a" stroke="#4a4a4a" stroke-width="0.3" transform="rotate(-90 615.8 388.4)" >d<tspan font-size="10">2</tspan></text>
<line x1="575.4" y1="365.1" x2="575.4" y2="401.0" stroke="#555" stroke-width="0.6" />
<line x1="603.7" y1="362.0" x2="603.7" y2="401.0" stroke="#555" stroke-width="0.6" />
<line x1="575.4" y1="398.1" x2="603.7" y2="398.1" stroke="#555" stroke-width="0.6" />
<path d="M589.0 398.1 L581.0 397.2 L581.0 399.0 Z" fill="#3a3a3a" stroke="#3a3a3a" stroke-width="0.5"/>
<path d="M591.0 398.1 L599.0 397.2 L599.0 399.0 Z" fill="#3a3a3a" stroke="#3a3a3a" stroke-width="0.5"/>
<text x="590.0" y="394.2" font-size="11.5" text-anchor="middle" fill="#4a4a4a" stroke="#4a4a4a" stroke-width="0.3" >C<tspan font-size="10">2</tspan></text>
<text x="588.5" y="443.4" font-size="10.5" text-anchor="middle" fill="#4a4a4a" stroke="#4a4a4a" stroke-width="0.3" >a-a</text>
<circle cx="590.2" cy="482.2" r="19.3" fill="url(#hatch2)" stroke="#333" stroke-width="1"/>
<rect x="567.4" y="477.4" width="7.5" height="9.8" rx="0" fill="#fefefe" stroke="#333" stroke-width="0.8"/>
<line x1="563.4" y1="483.0" x2="614.9" y2="483.0" stroke="#666" stroke-width="0.5" />
<line x1="589.7" y1="456.9" x2="589.7" y2="507.4" stroke="#666" stroke-width="0.5" />
<line x1="551.9" y1="461.1" x2="551.9" y2="504.0" stroke="#555" stroke-width="0.6" />
<line x1="546.8" y1="477.4" x2="567.4" y2="477.4" stroke="#555" stroke-width="0.6" />
<line x1="546.8" y1="487.2" x2="567.4" y2="487.2" stroke="#555" stroke-width="0.6" />
<path d="M551.9 477.4 L551.0 466.9 L552.8 466.9 Z" fill="#3a3a3a" stroke="#3a3a3a" stroke-width="0.5"/>
<path d="M551.9 487.2 L551.0 497.7 L552.8 497.7 Z" fill="#3a3a3a" stroke="#3a3a3a" stroke-width="0.5"/>
<text x="548.6" y="464.4" font-size="11.5" text-anchor="middle" fill="#4a4a4a" stroke="#4a4a4a" stroke-width="0.3" transform="rotate(-90 548.6 464.4)" >b<tspan font-size="10">1</tspan></text>
<line x1="632.5" y1="462.9" x2="632.5" y2="501.4" stroke="#555" stroke-width="0.6" />
<line x1="589.7" y1="462.9" x2="637.0" y2="462.9" stroke="#555" stroke-width="0.6" />
<line x1="589.7" y1="501.4" x2="637.0" y2="501.4" stroke="#555" stroke-width="0.6" />
<path d="M632.5 462.9 L631.6 473.4 L633.4 473.4 Z" fill="#3a3a3a" stroke="#3a3a3a" stroke-width="0.5"/>
<path d="M632.5 501.4 L631.6 490.9 L633.4 490.9 Z" fill="#3a3a3a" stroke="#3a3a3a" stroke-width="0.5"/>
<text x="629.0" y="484.8" font-size="11.5" text-anchor="middle" fill="#4a4a4a" stroke="#4a4a4a" stroke-width="0.3" transform="rotate(-90 629.0 484.8)" >d<tspan font-size="10">1</tspan></text>
<line x1="567.4" y1="487.2" x2="567.4" y2="530.6" stroke="#555" stroke-width="0.6" />
<line x1="609.7" y1="483.0" x2="609.7" y2="530.6" stroke="#555" stroke-width="0.6" />
<line x1="567.4" y1="524.1" x2="609.7" y2="524.1" stroke="#555" stroke-width="0.6" />
<path d="M567.4 524.1 L578.4 523.2 L578.4 525.0 Z" fill="#3a3a3a" stroke="#3a3a3a" stroke-width="0.5"/>
<path d="M609.7 524.1 L598.7 523.2 L598.7 525.0 Z" fill="#3a3a3a" stroke="#3a3a3a" stroke-width="0.5"/>
<text x="588.0" y="521.4" font-size="11.5" text-anchor="middle" fill="#4a4a4a" stroke="#4a4a4a" stroke-width="0.3" >C<tspan font-size="10">1</tspan></text>
</g>
<g id="table-lines" transform="rotate(-0.11 349 811.5)">
<line x1="23.7" y1="629.1" x2="674.8" y2="629.1" stroke="#555" stroke-width="0.9" />
<line x1="23.7" y1="993.7" x2="674.8" y2="993.7" stroke="#555" stroke-width="0.9" />
<line x1="24.2" y1="629.1" x2="24.2" y2="993.7" stroke="#555" stroke-width="0.9" />
<line x1="674.3" y1="629.1" x2="674.3" y2="993.7" stroke="#555" stroke-width="0.9" />
<line x1="62.5" y1="673.8" x2="587.9" y2="673.8" stroke="#555" stroke-width="0.9" />
<line x1="185.3" y1="764.8" x2="453.4" y2="764.8" stroke="#555" stroke-width="0.9" />
<line x1="489.1" y1="764.0" x2="634.7" y2="764.0" stroke="#555" stroke-width="0.9" />
<line x1="24.2" y1="800.4" x2="674.3" y2="800.4" stroke="#555" stroke-width="0.9" />
<line x1="24.2" y1="824.4" x2="558.6" y2="824.4" stroke="#555" stroke-width="0.9" />
<line x1="24.2" y1="848.6" x2="558.6" y2="848.6" stroke="#555" stroke-width="0.9" />
<line x1="24.2" y1="872.6" x2="558.6" y2="872.6" stroke="#555" stroke-width="0.9" />
<line x1="24.2" y1="896.6" x2="558.6" y2="896.6" stroke="#555" stroke-width="0.9" />
<line x1="24.2" y1="920.6" x2="558.6" y2="920.6" stroke="#555" stroke-width="0.9" />
<line x1="24.2" y1="944.5" x2="558.6" y2="944.5" stroke="#555" stroke-width="0.9" />
<line x1="24.2" y1="968.6" x2="558.6" y2="968.6" stroke="#555" stroke-width="0.9" />
<line x1="62.5" y1="629.1" x2="62.5" y2="993.7" stroke="#555" stroke-width="0.9" />
<line x1="241.0" y1="629.1" x2="241.0" y2="993.7" stroke="#555" stroke-width="0.9" />
<line x1="453.4" y1="629.1" x2="453.4" y2="993.7" stroke="#555" stroke-width="0.9" />
<line x1="587.9" y1="629.1" x2="587.9" y2="993.7" stroke="#555" stroke-width="0.9" />
<line x1="634.7" y1="629.1" x2="634.7" y2="993.7" stroke="#555" stroke-width="0.9" />
<line x1="89.5" y1="673.8" x2="89.5" y2="993.7" stroke="#555" stroke-width="0.9" />
<line x1="114.7" y1="673.8" x2="114.7" y2="993.7" stroke="#555" stroke-width="0.9" />
<line x1="142.3" y1="673.8" x2="142.3" y2="993.7" stroke="#555" stroke-width="0.9" />
<line x1="163.5" y1="673.8" x2="163.5" y2="993.7" stroke="#555" stroke-width="0.9" />
<line x1="185.3" y1="673.8" x2="185.3" y2="993.7" stroke="#555" stroke-width="0.9" />
<line x1="349.5" y1="673.8" x2="349.5" y2="993.7" stroke="#555" stroke-width="0.9" />
<line x1="489.1" y1="673.8" x2="489.1" y2="993.7" stroke="#555" stroke-width="0.9" />
<line x1="528.5" y1="673.8" x2="528.5" y2="993.7" stroke="#555" stroke-width="0.9" />
<line x1="269.3" y1="764.1" x2="269.3" y2="993.7" stroke="#555" stroke-width="0.9" />
<line x1="292.1" y1="764.1" x2="292.1" y2="993.7" stroke="#555" stroke-width="0.9" />
<line x1="321.7" y1="764.1" x2="321.7" y2="993.7" stroke="#555" stroke-width="0.9" />
<line x1="370.6" y1="764.1" x2="370.6" y2="993.7" stroke="#555" stroke-width="0.9" />
<line x1="393.3" y1="764.1" x2="393.3" y2="993.7" stroke="#555" stroke-width="0.9" />
<line x1="420.7" y1="764.1" x2="420.7" y2="993.7" stroke="#555" stroke-width="0.9" />
<line x1="558.6" y1="764.1" x2="558.6" y2="993.7" stroke="#555" stroke-width="0.9" />
<line x1="24.7" y1="629.1" x2="62.5" y2="800.4" stroke="#555" stroke-width="0.9" />
</g>
</svg>
<div class="tbl">
<div class="c" style="left:48.9px;top:643.0px;"><u>尺</u></div>
<div class="c" style="left:48.9px;top:653.8px;"><u>寸</u></div>
<div class="c" style="left:48.8px;top:664.6px;">Size</div>
<div class="c" style="left:37.1px;top:771.2px;"><u>型</u></div>
<div class="c" style="left:37.1px;top:782.0px;"><u>号</u></div>
<div class="c" style="left:37.6px;top:792.6px;">Type</div>
<div class="c" style="left:144.0px;top:652.9px;"><u>安装尺寸</u>installation size</div>
<div class="c" style="left:338.5px;top:652.9px;"><u>轴伸联接尺寸</u> size of coupling shaft end</div>
<div class="c" style="left:516.5px;top:652.4px;"><u>外形尺寸</u> contour size</div>
<div class="c h" style="left:77.0px;top:739.4px;">D<sub>1</sub></div>
<div class="c h" style="left:103.1px;top:739.4px;">D<sub>2</sub></div>
<div class="c h" style="left:129.5px;top:739.4px;">E</div>
<div class="c h" style="left:153.9px;top:739.4px;">h</div>
<div class="c h" style="left:175.4px;top:739.4px;">R</div>
<div class="c" style="left:213.2px;top:696.2px;"><u>安装孔</u></div>
<div class="c" style="left:213.2px;top:713.3px;">foundation</div>
<div class="c" style="left:213.2px;top:730.4px;">hole</div>
<div class="c" style="left:213.2px;top:747.5px;">diameter</div>
<div class="c h" style="left:213.4px;top:786.2px;">n−d<sub>0</sub></div>
<div class="c" style="left:296.6px;top:711.4px;"><u>输出轴</u></div>
<div class="c" style="left:292.2px;top:729.1px;">output shaft</div>
<div class="c" style="left:401.0px;top:711.4px;"><u>输入轴</u></div>
<div class="c" style="left:397.0px;top:729.1px;">input shaft</div>
<div class="c h" style="left:255.0px;top:778.2px;">d<sub>1</sub></div>
<div class="c" style="left:254.4px;top:794.4px;font-size:8.4px;">(h<sub>6</sub>)</div>
<div class="c h" style="left:281.3px;top:786.3px;">b<sub>1</sub></div>
<div class="c h" style="left:307.5px;top:786.3px;">c<sub>1</sub></div>
<div class="c h" style="left:336.2px;top:786.3px;">l<sub>1</sub></div>
<div class="c h" style="left:360.7px;top:786.3px;">d<sub>2</sub></div>
<div class="c h" style="left:382.6px;top:786.3px;">b<sub>2</sub></div>
<div class="c h" style="left:407.6px;top:786.3px;">c<sub>2</sub></div>
<div class="c h" style="left:437.6px;top:786.3px;">l<sub>2</sub></div>
<div class="c h" style="left:472.5px;top:738.9px;">D</div>
<div class="c" style="left:509.8px;top:695.6px;"><u>双轴</u></div>
<div class="c" style="left:509.6px;top:712.8px;"><u>型</u>double</div>
<div class="c" style="left:508.2px;top:730.0px;">shaft</div>
<div class="c" style="left:509.2px;top:747.2px;">type</div>
<div class="c" style="left:558.4px;top:694.6px;"><u>直联型</u></div>
<div class="c" style="left:555.4px;top:711.7px;">direct</div>
<div class="c" style="left:557.0px;top:728.8px;">coupling</div>
<div class="c" style="left:557.8px;top:745.9px;">type</div>
<div class="c" style="left:610.6px;top:662.8px;"><u>出轴</u></div>
<div class="c" style="left:610.6px;top:680.0px;"><u>中心孔</u></div>
<div class="c" style="left:610.0px;top:697.2px;">centre</div>
<div class="c" style="left:610.0px;top:714.4px;">hole</div>
<div class="c" style="left:610.2px;top:731.6px;">diameter</div>
<div class="c" style="left:654.0px;top:681.6px;"><u>双轴型重</u></div>
<div class="c" style="left:652.8px;top:698.9px;"><u>量</u>(kg)</div>
<div class="c" style="left:654.2px;top:716.1px;">double</div>
<div class="c" style="left:652.8px;top:733.4px;">shaft</div>
<div class="c" style="left:654.0px;top:750.6px;">weight</div>
<div class="c h" style="left:509.8px;top:785.0px;">L</div>
<div class="c h" style="left:543.9px;top:785.0px;">L<sub>1</sub></div>
<div class="c h" style="left:572.8px;top:785.0px;">L<sub>2</sub></div>
<div class="c h" style="left:611.8px;top:784.8px;">S</div>
<div class="c" style="left:44.4px;top:816.3px;">420</div>
<div class="c" style="left:77.8px;top:816.3px;">230</div>
<div class="c" style="left:103.6px;top:816.3px;">200</div>
<div class="c" style="left:130.0px;top:816.3px;">79</div>
<div class="c" style="left:153.9px;top:816.3px;">20</div>
<div class="c" style="left:175.4px;top:816.3px;">4</div>
<div class="c" style="left:213.7px;top:816.3px;">6/15</div>
<div class="c" style="left:256.9px;top:816.3px;">45</div>
<div class="c" style="left:282.5px;top:816.3px;">14</div>
<div class="c" style="left:307.9px;top:816.3px;">48.5</div>
<div class="c" style="left:337.1px;top:816.3px;">63</div>
<div class="c" style="left:361.9px;top:816.3px;">10</div>
<div class="c" style="left:383.4px;top:816.3px;">4</div>
<div class="c" style="left:408.0px;top:816.3px;">11.5</div>
<div class="c" style="left:438.0px;top:816.3px;">15</div>
<div class="c" style="left:472.2px;top:816.3px;">260</div>
<div class="c" style="left:510.3px;top:816.3px;">453</div>
<div class="c" style="left:544.5px;top:816.3px;">407</div>
<div class="c" style="left:613.1px;top:815.2px;">M8</div>
<div class="c" style="left:44.4px;top:840.3px;">742</div>
<div class="c" style="left:77.8px;top:840.3px;">390</div>
<div class="c" style="left:103.6px;top:840.3px;">345</div>
<div class="c" style="left:130.0px;top:840.3px;">114</div>
<div class="c" style="left:153.9px;top:840.3px;">26</div>
<div class="c" style="left:175.4px;top:840.3px;">5</div>
<div class="c" style="left:213.7px;top:840.3px;">8/19</div>
<div class="c" style="left:256.9px;top:840.3px;">80</div>
<div class="c" style="left:282.5px;top:840.3px;">22</div>
<div class="c" style="left:307.9px;top:840.3px;">85</div>
<div class="c" style="left:337.1px;top:840.3px;">98</div>
<div class="c" style="left:361.9px;top:840.3px;">15</div>
<div class="c" style="left:383.4px;top:840.3px;">5</div>
<div class="c" style="left:408.0px;top:840.3px;">17</div>
<div class="c" style="left:438.0px;top:840.3px;">25</div>
<div class="c" style="left:472.2px;top:840.3px;">430</div>
<div class="c" style="left:510.3px;top:840.3px;">636</div>
<div class="c" style="left:544.5px;top:840.3px;">583</div>
<div class="c" style="left:613.1px;top:839.2px;">M12</div>
<div class="c" style="left:44.4px;top:864.3px;">842</div>
<div class="c" style="left:77.8px;top:864.3px;">450</div>
<div class="c" style="left:103.6px;top:864.3px;">400</div>
<div class="c" style="left:130.0px;top:864.3px;">112</div>
<div class="c" style="left:153.9px;top:864.3px;">30</div>
<div class="c" style="left:175.4px;top:864.3px;">6</div>
<div class="c" style="left:213.7px;top:864.3px;">12−24</div>
<div class="c" style="left:256.9px;top:864.3px;">90</div>
<div class="c" style="left:282.5px;top:864.3px;">25</div>
<div class="c" style="left:307.9px;top:864.3px;">95</div>
<div class="c" style="left:337.1px;top:864.3px;">110</div>
<div class="c" style="left:361.9px;top:864.3px;">15</div>
<div class="c" style="left:383.4px;top:864.3px;">5</div>
<div class="c" style="left:408.0px;top:864.3px;">17</div>
<div class="c" style="left:438.0px;top:864.3px;">25</div>
<div class="c" style="left:472.2px;top:864.3px;">490</div>
<div class="c" style="left:510.3px;top:864.3px;">693</div>
<div class="c" style="left:544.5px;top:864.3px;">640</div>
<div class="c" style="left:613.1px;top:863.2px;">M16</div>
<div class="c" style="left:44.4px;top:888.3px;">853</div>
<div class="c" style="left:77.8px;top:888.3px;">450</div>
<div class="c" style="left:103.6px;top:888.3px;">400</div>
<div class="c" style="left:130.0px;top:888.3px;">112</div>
<div class="c" style="left:153.9px;top:888.3px;">30</div>
<div class="c" style="left:175.4px;top:888.3px;">6</div>
<div class="c" style="left:213.7px;top:888.3px;">12−24</div>
<div class="c" style="left:256.9px;top:888.3px;">90</div>
<div class="c" style="left:282.5px;top:888.3px;">25</div>
<div class="c" style="left:307.9px;top:888.3px;">95</div>
<div class="c" style="left:337.1px;top:888.3px;">110</div>
<div class="c" style="left:361.9px;top:888.3px;">18</div>
<div class="c" style="left:383.4px;top:888.3px;">6</div>
<div class="c" style="left:408.0px;top:888.3px;">20.5</div>
<div class="c" style="left:438.0px;top:888.3px;">35</div>
<div class="c" style="left:472.2px;top:888.3px;">490</div>
<div class="c" style="left:510.3px;top:888.3px;">734</div>
<div class="c" style="left:544.5px;top:888.3px;">663</div>
<div class="c" style="left:613.1px;top:887.1px;">M16</div>
<div class="c" style="left:44.4px;top:912.3px;">953</div>
<div class="c" style="left:77.8px;top:912.3px;">520</div>
<div class="c" style="left:103.6px;top:912.3px;">455</div>
<div class="c" style="left:130.0px;top:912.3px;">170</div>
<div class="c" style="left:153.9px;top:912.3px;">35</div>
<div class="c" style="left:175.4px;top:912.3px;">8</div>
<div class="c" style="left:213.7px;top:912.3px;">12−24</div>
<div class="c" style="left:256.9px;top:912.3px;">100</div>
<div class="c" style="left:282.5px;top:912.3px;">28</div>
<div class="c" style="left:307.9px;top:912.3px;">106</div>
<div class="c" style="left:337.1px;top:912.3px;">129</div>
<div class="c" style="left:361.9px;top:912.3px;">18</div>
<div class="c" style="left:383.4px;top:912.3px;">6</div>
<div class="c" style="left:408.0px;top:912.3px;">20.5</div>
<div class="c" style="left:438.0px;top:912.3px;">35</div>
<div class="c" style="left:472.2px;top:912.3px;">580</div>
<div class="c" style="left:510.3px;top:912.3px;">847</div>
<div class="c" style="left:544.5px;top:912.3px;">776</div>
<div class="c" style="left:613.1px;top:911.1px;">M20</div>
<div class="c" style="left:44.4px;top:936.3px;">1063</div>
<div class="c" style="left:77.8px;top:936.3px;">590</div>
<div class="c" style="left:103.6px;top:936.3px;">520</div>
<div class="c" style="left:130.0px;top:936.3px;">174</div>
<div class="c" style="left:153.9px;top:936.3px;">40</div>
<div class="c" style="left:175.4px;top:936.3px;">10</div>
<div class="c" style="left:213.7px;top:936.3px;">12−28</div>
<div class="c" style="left:256.9px;top:936.3px;">110</div>
<div class="c" style="left:282.5px;top:936.3px;">28</div>
<div class="c" style="left:307.9px;top:936.3px;">116</div>
<div class="c" style="left:337.1px;top:936.3px;">140</div>
<div class="c" style="left:361.9px;top:936.3px;">18</div>
<div class="c" style="left:383.4px;top:936.3px;">6</div>
<div class="c" style="left:408.0px;top:936.3px;">20.5</div>
<div class="c" style="left:438.0px;top:936.3px;">35</div>
<div class="c" style="left:472.2px;top:936.3px;">650</div>
<div class="c" style="left:510.3px;top:936.3px;">902</div>
<div class="c" style="left:544.5px;top:936.3px;">831</div>
<div class="c" style="left:613.1px;top:935.1px;">M24</div>
<div class="c" style="left:44.4px;top:960.3px;">1174</div>
<div class="c" style="left:77.8px;top:960.3px;">800</div>
<div class="c" style="left:103.6px;top:960.3px;">680</div>
<div class="c" style="left:130.0px;top:960.3px;">210</div>
<div class="c" style="left:153.9px;top:960.3px;">50</div>
<div class="c" style="left:175.4px;top:960.3px;">10</div>
<div class="c" style="left:213.7px;top:960.3px;">12−37</div>
<div class="c" style="left:256.9px;top:960.3px;">130</div>
<div class="c" style="left:282.5px;top:960.3px;">32</div>
<div class="c" style="left:307.9px;top:960.3px;">137</div>
<div class="c" style="left:337.1px;top:960.3px;">184</div>
<div class="c" style="left:361.9px;top:960.3px;">22</div>
<div class="c" style="left:383.4px;top:960.3px;">6</div>
<div class="c" style="left:408.0px;top:960.3px;">24.5</div>
<div class="c" style="left:438.0px;top:960.3px;">40</div>
<div class="c" style="left:472.2px;top:960.3px;">880</div>
<div class="c" style="left:510.3px;top:960.3px;">1161</div>
<div class="c" style="left:544.5px;top:960.3px;">1081</div>
<div class="c" style="left:613.1px;top:959.1px;">M30</div>
<div class="c" style="left:44.4px;top:984.3px;">1285</div>
<div class="c" style="left:77.8px;top:984.3px;">1020</div>
<div class="c" style="left:103.6px;top:984.3px;">900</div>
<div class="c" style="left:130.0px;top:984.3px;">355</div>
<div class="c" style="left:153.9px;top:984.3px;">60</div>
<div class="c" style="left:175.4px;top:984.3px;">10</div>
<div class="c" style="left:213.7px;top:984.3px;">8−39</div>
<div class="c" style="left:256.9px;top:984.3px;">180</div>
<div class="c" style="left:282.5px;top:984.3px;">45</div>
<div class="c" style="left:307.9px;top:984.3px;">190</div>
<div class="c" style="left:337.1px;top:984.3px;">320</div>
<div class="c" style="left:361.9px;top:984.3px;">30</div>
<div class="c" style="left:383.4px;top:984.3px;">8</div>
<div class="c" style="left:408.0px;top:984.3px;">33</div>
<div class="c" style="left:438.0px;top:984.3px;">45</div>
<div class="c" style="left:472.2px;top:984.3px;">1160</div>
<div class="c" style="left:510.3px;top:984.3px;">1634</div>
<div class="c" style="left:544.5px;top:984.3px;">1543</div>
<div class="c" style="left:613.1px;top:983.1px;">M42</div>
<div class="vn" style="position:absolute;left:566.4px;top:811.1px;width:14px;height:180px;writing-mode:vertical-rl;text-orientation:mixed;font-size:7.6px;line-height:14px;color:#4c4c4c;-webkit-text-stroke:0.2px #4c4c4c;white-space:nowrap;"><span style="font-size:7.4px;letter-spacing:1.4px;position:relative;left:-1.8px;">按电动机长</span><span style="padding-top:1.2px;">according to length of electric machine</span></div>
</div>
<div class="pg"><i>·</i> 252 <i>·</i></div>
</div>
</body>
</html>
